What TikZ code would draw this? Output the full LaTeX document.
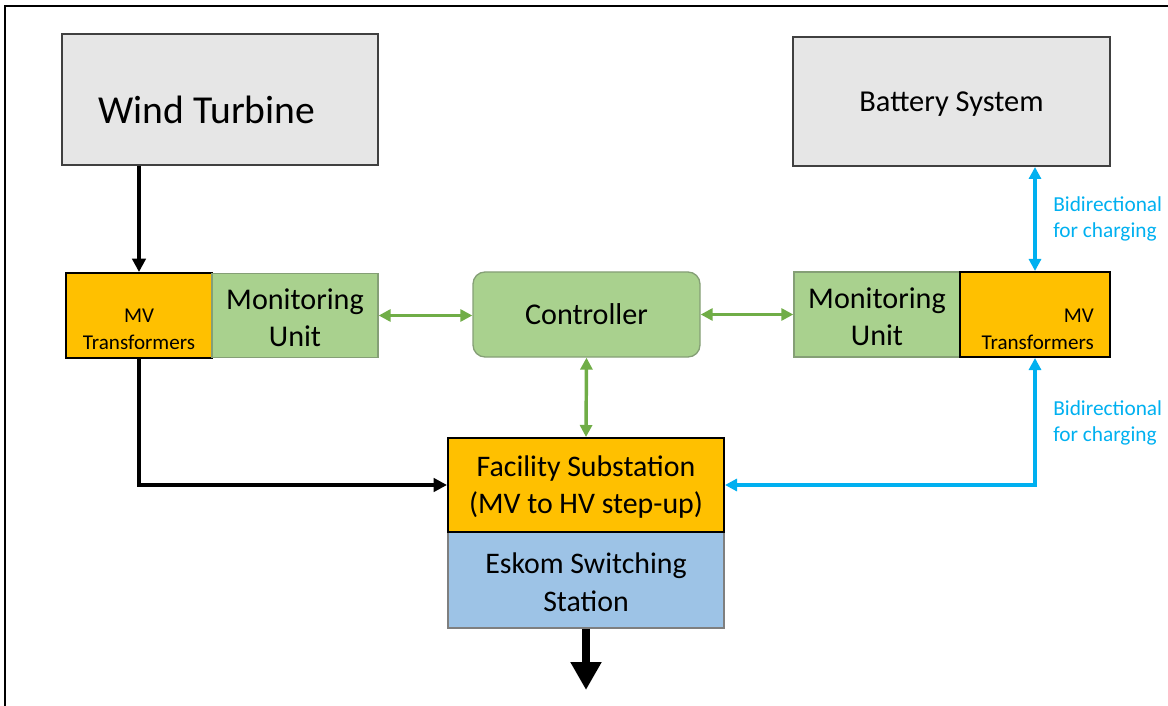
\documentclass[tikz,border=0pt]{standalone}
\usepackage{fontspec}
\setmainfont{Carlito}
\usetikzlibrary{arrows.meta}
\definecolor{boxgray}{HTML}{E6E6E6}
\definecolor{boxgrayline}{HTML}{404040}
\definecolor{mvorange}{HTML}{FFC000}
\definecolor{mongreen}{HTML}{A9D18E}
\definecolor{mongreenline}{HTML}{859F76}
\definecolor{esblue}{HTML}{9DC3E6}
\definecolor{esline}{HTML}{7F7F7F}
\definecolor{arrgreen}{HTML}{70AD47}
\definecolor{arrblue}{HTML}{00B0F0}
\tikzset{
  graybox/.style={draw=boxgrayline, fill=boxgray, line width=1.5pt, inner sep=0pt},
  mvbox/.style={draw=black, fill=mvorange, line width=1.5pt, inner sep=0pt},
  monbox/.style={draw=mongreenline, fill=mongreen, line width=1pt, inner sep=0pt, align=center, font=\fontsize{22.6}{27.5}\selectfont},
  ctrlbox/.style={draw=mongreenline, fill=mongreen, line width=1pt, rounded corners=9pt, inner sep=0pt, font=\fontsize{22.6}{27.5}\selectfont},
  esbox/.style={draw=esline, fill=esblue, line width=1pt, inner sep=0pt, align=center, font=\fontsize{22.4}{28.5}\selectfont},
  plaintext/.style={inner sep=0pt, align=center},
  blkarrow/.style={line width=2.8pt, -{Triangle[length=10pt,width=10pt]}},
  grnarrow/.style={draw=arrgreen, line width=2.6pt, {Triangle[length=9pt,width=9pt]}-{Triangle[length=9pt,width=9pt]}},
  bluarrow/.style={draw=arrblue, line width=2.6pt, {Triangle[length=9pt,width=9pt]}-{Triangle[length=9pt,width=9pt]}},
  bluelabel/.style={inner sep=0pt, align=left, text=arrblue, font=\fontsize{16}{19.5}\selectfont, anchor=west}
}
\begin{document}
\begin{tikzpicture}[x=0.75pt, y=-0.75pt]
\useasboundingbox (0,0) rectangle (1168,706);
% frame
\draw[line width=1.8pt] (5,706) -- (5,6) -- (1168,6);

% boxes
\node[graybox, minimum width=237pt, minimum height=98.25pt] (wind) at (220,99.5) {};
\node[plaintext, font=\fontsize{29.7}{34}\selectfont] (windt) at (207,110) {Wind Turbine};
\node[graybox, minimum width=237.75pt, minimum height=96.75pt] (bat) at (951.5,101.5) {};
\node[plaintext, font=\fontsize{22.8}{27}\selectfont] (batt) at (951.5,104.5) {Battery System};

\node[mvbox, minimum width=109.5pt, minimum height=63.75pt] (mvl) at (139,315.5) {};
\node[plaintext, font=\fontsize{15.8}{20}\selectfont] (mvlt) at (139,329) {MV\\Transformers};
\node[monbox, minimum width=124.5pt, minimum height=63pt] (monl) at (295,315.5) {};
\node[plaintext, font=\fontsize{22.6}{27.5}\selectfont] (monlt) at (295,317.5) {Monitoring\\Unit};

\node[ctrlbox, minimum width=170.25pt, minimum height=63.75pt] (ctrl) at (586.5,314.5) {Controller};

\node[monbox, minimum width=124.5pt, minimum height=63.75pt] (monr) at (877,314.5) {};
\node[plaintext, font=\fontsize{22.6}{27.5}\selectfont] (monrt) at (877,316.5) {Monitoring\\Unit};
\node[mvbox, minimum width=112.5pt, minimum height=63.75pt] (mvr) at (1035,314.5) {};
\node[plaintext, align=right, font=\fontsize{15.8}{20}\selectfont, anchor=east] (mvrt) at (1094,329) {MV\\Transformers};

\node[mvbox, minimum width=207pt, minimum height=70.5pt] (fac) at (586,485) {};
\node[plaintext, font=\fontsize{22.4}{28}\selectfont] (fact) at (586,487) {Facility Substation\\(MV to HV step-up)};
\node[esbox, minimum width=207pt, minimum height=72pt] (esk) at (586,580) {};
\node[plaintext, font=\fontsize{22.4}{28.5}\selectfont] (eskt) at (586,582) {Eskom Switching\\Station};
\node[mvbox, minimum width=207pt, minimum height=70.5pt, fill=none] (facb) at (586,485) {};

\coordinate (out) at (586,690);

% black connectors
\draw[blkarrow] (wind.south -| mvl.north) -- (mvl.north);
\draw[blkarrow] (mvl.south) |- (fac.west);
\draw[line width=6.5pt, -{Triangle[length=21pt,width=22pt]}] (esk.south) -- (out);

% green connectors
\draw[grnarrow] (monl.east) -- (monl.east -| ctrl.west);
\draw[grnarrow] (ctrl.east) -- (monr.west);
\draw[grnarrow] (ctrl.south) -- (fac.north);

% blue connectors
\draw[bluarrow] (mvr.north |- bat.south) -- (mvr.north);
\draw[bluarrow] (mvr.south) |- (fac.east);
\node[bluelabel] (lab1) at (1053,219) {Bidirectional\\for charging};
\node[bluelabel] (lab2) at (1053,423) {Bidirectional\\for charging};
\end{tikzpicture}
\end{document}
